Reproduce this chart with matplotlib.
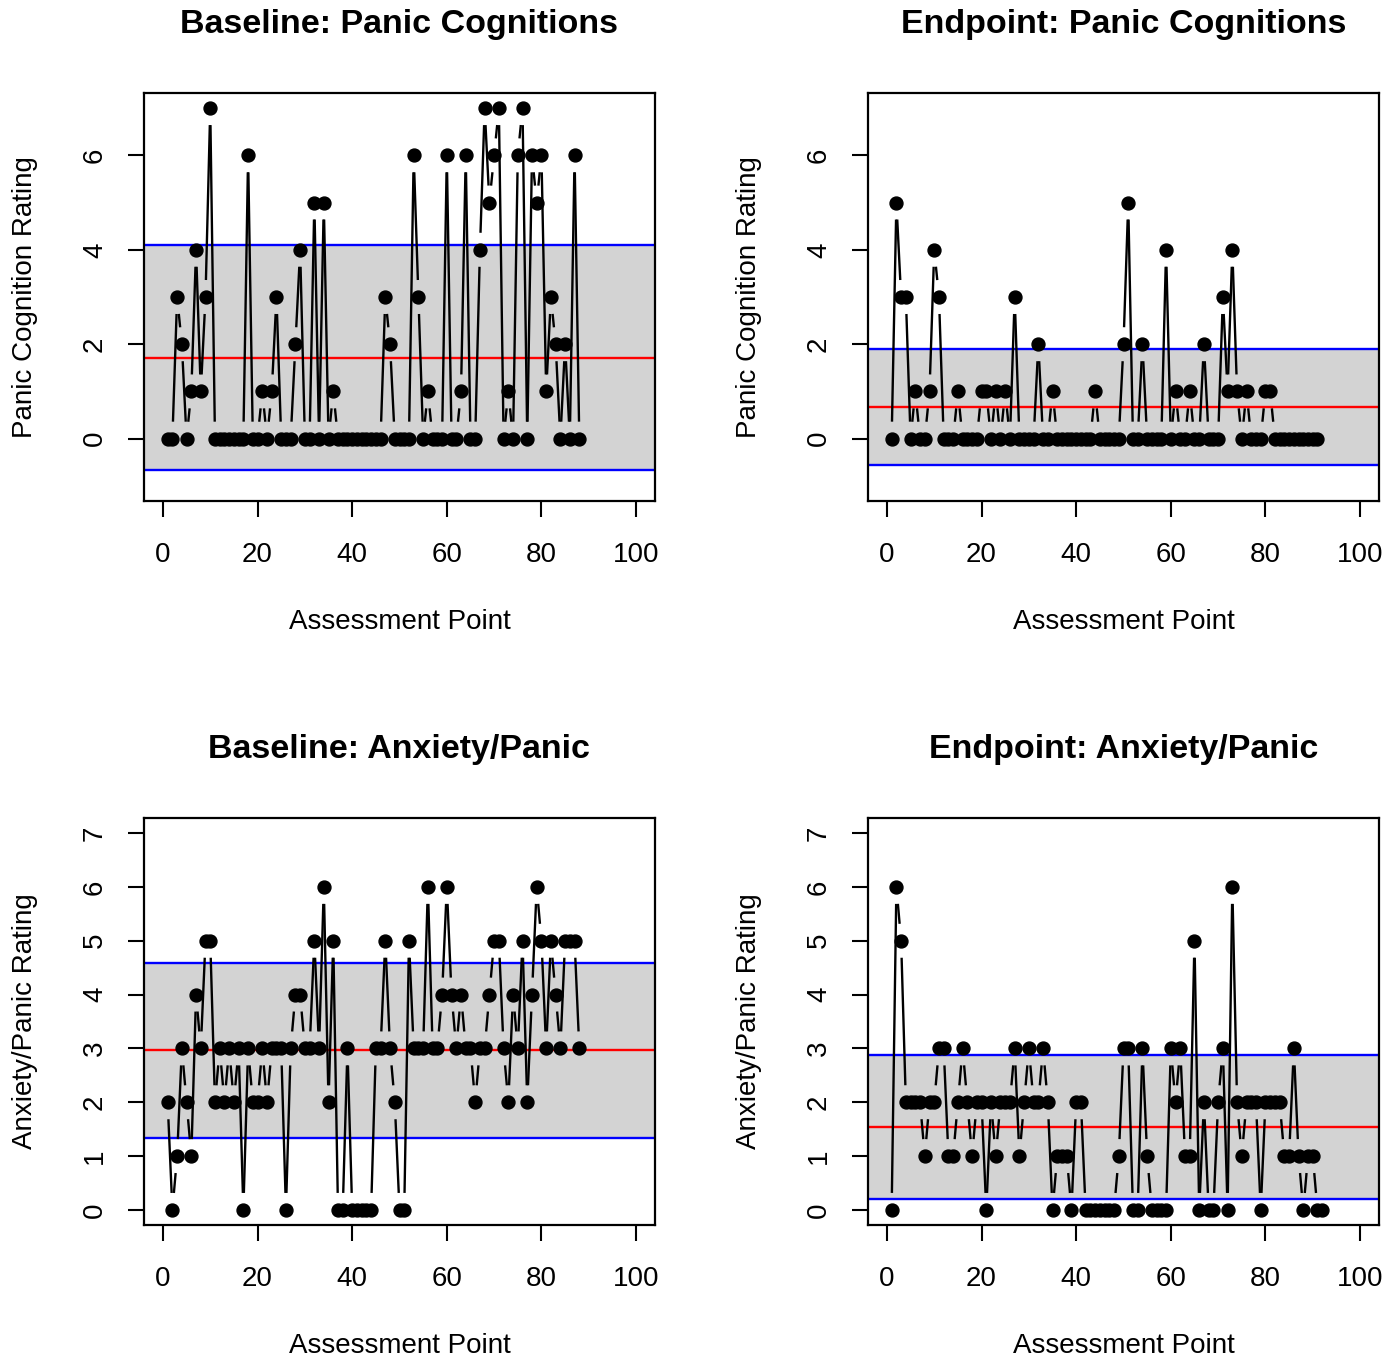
import numpy as np
import matplotlib.pyplot as plt
from matplotlib.collections import LineCollection

plt.rcParams['font.family'] = ['Liberation Sans', 'DejaVu Sans']

# ratings per assessment point
base_cog = [0, 0, 3, 2, 0, 1, 4, 1, 3, 7,
            0, 0, 0, 0, 0, 0, 0, 6, 0, 0,
            1, 0, 1, 3, 0, 0, 0, 2, 4, 0,
            0, 5, 0, 5, 0, 1, 0, 0, 0, 0,
            0, 0, 0, 0, 0, 0, 3, 2, 0, 0,
            0, 0, 6, 3, 0, 1, 0, 0, 0, 6,
            0, 0, 1, 6, 0, 0, 4, 7, 5, 6,
            7, 0, 1, 0, 6, 7, 0, 6, 5, 6,
            1, 3, 2, 0, 2, 0, 6, 0]
end_cog = [0, 5, 3, 3, 0, 1, 0, 0, 1, 4,
           3, 0, 0, 0, 1, 0, 0, 0, 0, 1,
           1, 0, 1, 0, 1, 0, 3, 0, 0, 0,
           0, 2, 0, 0, 1, 0, 0, 0, 0, 0,
           0, 0, 0, 1, 0, 0, 0, 0, 0, 2,
           5, 0, 0, 2, 0, 0, 0, 0, 4, 0,
           1, 0, 0, 1, 0, 0, 2, 0, 0, 0,
           3, 1, 4, 1, 0, 1, 0, 0, 0, 1,
           1, 0, 0, 0, 0, 0, 0, 0, 0, 0,
           0]
base_anx = [2, 0, 1, 3, 2, 1, 4, 3, 5, 5,
            2, 3, 2, 3, 2, 3, 0, 3, 2, 2,
            3, 2, 3, 3, 3, 0, 3, 4, 4, 3,
            3, 5, 3, 6, 2, 5, 0, 0, 3, 0,
            0, 0, 0, 0, 3, 3, 5, 3, 2, 0,
            0, 5, 3, 3, 3, 6, 3, 3, 4, 6,
            4, 3, 4, 3, 3, 2, 3, 3, 4, 5,
            5, 3, 2, 4, 3, 5, 2, 4, 6, 5,
            3, 5, 4, 3, 5, 5, 5, 3]
end_anx = [0, 6, 5, 2, 2, 2, 2, 1, 2, 2,
           3, 3, 1, 1, 2, 3, 2, 1, 2, 2,
           0, 2, 1, 2, 2, 2, 3, 1, 2, 3,
           2, 2, 3, 2, 0, 1, 1, 1, 0, 2,
           2, 0, 0, 0, 0, 0, 0, 0, 1, 3,
           3, 0, 0, 3, 1, 0, 0, 0, 0, 3,
           2, 3, 1, 1, 5, 0, 2, 0, 0, 2,
           3, 0, 6, 2, 1, 2, 2, 2, 0, 2,
           2, 2, 2, 1, 1, 3, 1, 0, 1, 1,
           0, 0]

titles = ['Baseline: Panic Cognitions', 'Endpoint: Panic Cognitions',
          'Baseline: Anxiety/Panic', 'Endpoint: Anxiety/Panic']
ylabels = ['Panic Cognition Rating', 'Panic Cognition Rating',
           'Anxiety/Panic Rating', 'Anxiety/Panic Rating']
xlabel = 'Assessment Point'
xticks = [0, 20, 40, 60, 80, 100]
cog_yticks = [0, 2, 4, 6]
anx_yticks = [0, 1, 2, 3, 4, 5, 6, 7]

W, H = 1400, 1360
fig = plt.figure(figsize=(W / 100, H / 100), dpi=100)


def r_range(lo, hi):
    # R pads the axis range by 4% on each side
    d = (hi - lo) * 0.04
    return lo - d, hi + d


def gapped_line(ax, x, y, gap=17):
    # R type="b": segments stop short of the points
    pts = ax.transData.transform(np.column_stack([x, y]))
    segs = []
    for p, q in zip(pts[:-1], pts[1:]):
        d = q - p
        L = np.hypot(d[0], d[1])
        if L > 2 * gap:
            u = d / L
            seg = np.array([p + u * gap, q - u * gap])
            segs.append(ax.transData.inverted().transform(seg))
    ax.add_collection(LineCollection(segs, colors='black', linewidths=1.7, zorder=3))


def panel(box, values, title, ylabel, ylim, yticks):
    l, t, r, b = box
    w, h = r - l, b - t
    ax = fig.add_axes([l / W, 1 - b / H, w / W, h / H])
    y = np.array(values, dtype=float)
    x = np.arange(1, len(y) + 1)
    m, sd = y.mean(), y.std(ddof=1)

    ax.set_xlim(*r_range(0, 100))
    ax.set_ylim(*r_range(*ylim))
    ax.axhspan(m - sd, m + sd, color='#d3d3d3', lw=0, zorder=0)
    ax.axhline(m + sd, color='blue', lw=1.7, zorder=1)
    ax.axhline(m - sd, color='blue', lw=1.7, zorder=1)
    ax.axhline(m, color='red', lw=1.7, zorder=1)
    gapped_line(ax, x, y)
    ax.plot(x, y, 'o', color='black', ms=9.3, zorder=4)

    ax.set_xticks(xticks)
    ax.set_yticks(yticks)
    ax.tick_params(length=11.5, width=1.5, labelsize=20)
    ax.tick_params(axis='x', pad=18)
    ax.tick_params(axis='y', pad=14.5, labelrotation=90)
    for lab in ax.get_yticklabels():
        lab.set_va('center')
    for s in ax.spines.values():
        s.set_linewidth(1.6)

    ax.text(0.5, 1 + 69 / h, title, transform=ax.transAxes, ha='center',
            va='center', fontsize=24.5, fontweight='bold')
    ax.text(0.5, -121 / h, xlabel, transform=ax.transAxes, ha='center',
            va='center', fontsize=20)
    ax.text(-119 / w, 0.5, ylabel, transform=ax.transAxes, ha='center',
            va='center', rotation=90, fontsize=20)
    return ax


panel((144, 93, 655, 501), base_cog, titles[0], ylabels[0], (-1, 7), cog_yticks)
panel((868, 93, 1379, 501), end_cog, titles[1], ylabels[1], (-1, 7), cog_yticks)
panel((144, 818, 655, 1225), base_anx, titles[2], ylabels[2], (0, 7), anx_yticks)
panel((868, 818, 1379, 1225), end_anx, titles[3], ylabels[3], (0, 7), anx_yticks)

fig.savefig('out.png', dpi=100)
